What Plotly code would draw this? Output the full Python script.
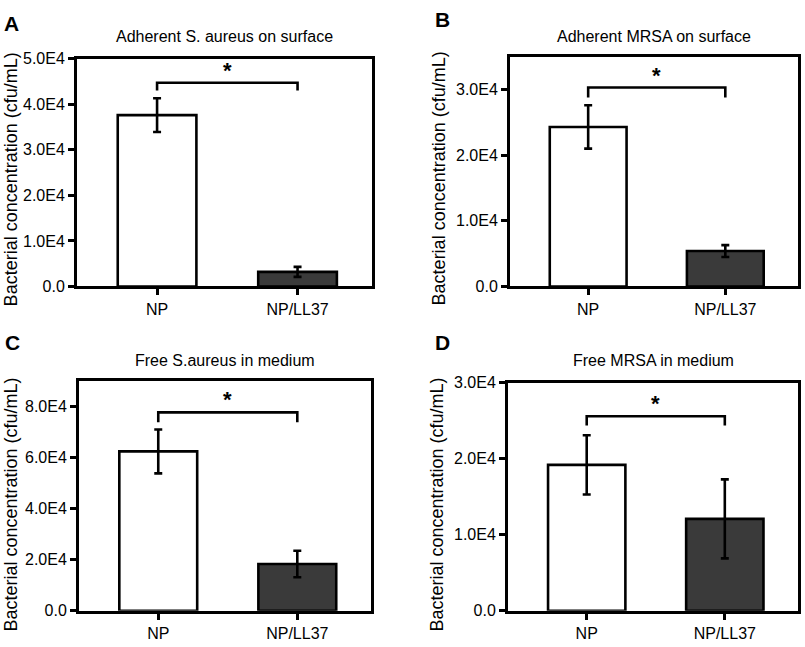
import plotly.graph_objects as go

categories = ["NP", "NP/LL37"]

panel_letters = ["A", "B", "C", "D"]
panel_titles = [
    "Adherent S. aureus on surface",
    "Adherent MRSA on surface",
    "Free S.aureus in medium",
    "Free MRSA in medium",
]
# means and error (SD) for NP, NP/LL37
means_A = [37600, 3200]
errs_A = [3700, 1100]
means_B = [24300, 5400]
errs_B = [3300, 900]
means_C = [62400, 18300]
errs_C = [8600, 5200]
means_D = [19200, 12100]
errs_D = [3900, 5200]

# significance bracket (level, end-drop level)
bracket_A = [44700, 43000]
bracket_B = [30300, 28800]
bracket_C = [77700, 73800]
bracket_D = [25600, 24400]

yrange_max = [50000, 35000, 90000, 30000]
tickvals_A = [0, 10000, 20000, 30000, 40000, 50000]
ticktext_A = ["0.0", "1.0E4", "2.0E4", "3.0E4", "4.0E4", "5.0E4"]
tickvals_B = [0, 10000, 20000, 30000]
ticktext_B = ["0.0", "1.0E4", "2.0E4", "3.0E4"]
tickvals_C = [0, 20000, 40000, 60000, 80000]
ticktext_C = ["0.0", "2.0E4", "4.0E4", "6.0E4", "8.0E4"]
tickvals_D = [0, 10000, 20000, 30000]
ticktext_D = ["0.0", "1.0E4", "2.0E4", "3.0E4"]

y_title = "Bacterial concentration (cfu/mL)"
bar_colors = ["#ffffff", "#3a3a3a"]

W, H = 805, 647
FONT = "Liberation Sans, Arial, sans-serif"

# plot box pixel geometry (left, right, top, bottom)
boxes = [(77, 372, 52, 286), (510, 798, 50, 286), (79, 371, 383, 619), (508, 798, 385, 619)]

panels = [
    (means_A, errs_A, bracket_A, tickvals_A, ticktext_A),
    (means_B, errs_B, bracket_B, tickvals_B, ticktext_B),
    (means_C, errs_C, bracket_C, tickvals_C, ticktext_C),
    (means_D, errs_D, bracket_D, tickvals_D, ticktext_D),
]

fig = go.Figure()
annotations = []
letter_pos = [(11, 16), (442, 12), (12, 344), (442, 344)]
ytitle_pos = [(11, 176), (439, 175), (11, 510), (437, 510)]
title_y = [29, 29, 362, 362]

for i, (means, errs, br, tv, tt) in enumerate(panels):
    n = "" if i == 0 else str(i + 1)
    xa, ya = "x" + n, "y" + n
    l, r, t, b = boxes[i]
    fig.add_trace(go.Bar(
        x=categories, y=means, xaxis=xa, yaxis=ya, width=0.56,
        marker=dict(color=bar_colors, line=dict(color="black", width=2.6)),
        error_y=dict(type="data", array=errs, color="black", thickness=2.6, width=4),
        showlegend=False, hoverinfo="skip",
    ))
    fig.add_trace(go.Scatter(
        x=[categories[0], categories[0], categories[1], categories[1]],
        y=[br[1], br[0], br[0], br[1]], xaxis=xa, yaxis=ya, mode="lines",
        line=dict(color="black", width=2.6), showlegend=False, hoverinfo="skip",
    ))
    annotations.append(dict(
        x=0.5, y=br[0], xref=xa, yref=ya, text="<b>*</b>", showarrow=False,
        yanchor="bottom", yshift=-2, font=dict(size=22, color="black", family=FONT),
    ))
    xdom = [l / W, r / W]
    ydom = [1 - b / H, 1 - t / H]
    axis_common = dict(showline=True, mirror=True, linecolor="black", linewidth=3,
                       showgrid=False, zeroline=False, ticks="outside", ticklen=6,
                       tickwidth=2.6, tickcolor="black",
                       tickfont=dict(size=16, color="black", family=FONT))
    fig.layout["xaxis" + n] = dict(domain=xdom, anchor=ya, type="category",
                                   range=[-0.57, 1.53], **axis_common)
    fig.layout["yaxis" + n] = dict(domain=ydom, anchor=xa, range=[0, yrange_max[i]],
                                   tickvals=tv, ticktext=tt, **axis_common)
    annotations.append(dict(
        x=(l + r) / 2 / W, y=1 - title_y[i] / H, xref="paper", yref="paper",
        text=panel_titles[i], showarrow=False, xanchor="center", yanchor="middle",
        font=dict(size=16, color="black", family=FONT),
    ))
    lx, ly = letter_pos[i]
    annotations.append(dict(
        x=lx / W, y=1 - ly / H, xref="paper", yref="paper",
        text="<b>" + panel_letters[i] + "</b>", showarrow=False,
        xanchor="center", yanchor="middle",
        font=dict(size=21, color="black", family=FONT),
    ))
    tx, ty = ytitle_pos[i]
    annotations.append(dict(
        x=tx / W, y=1 - ty / H, xref="paper", yref="paper", text=y_title,
        textangle=-90, showarrow=False, xanchor="center", yanchor="middle",
        font=dict(size=18, color="black", family=FONT),
    ))

fig.update_layout(
    width=W, height=H, margin=dict(l=0, r=0, t=0, b=0),
    paper_bgcolor="white", plot_bgcolor="white", annotations=annotations,
)
fig.write_html("out.html", config={"displayModeBar": False},
               post_script="document.body.style.margin='0';document.body.style.overflow='hidden';")
